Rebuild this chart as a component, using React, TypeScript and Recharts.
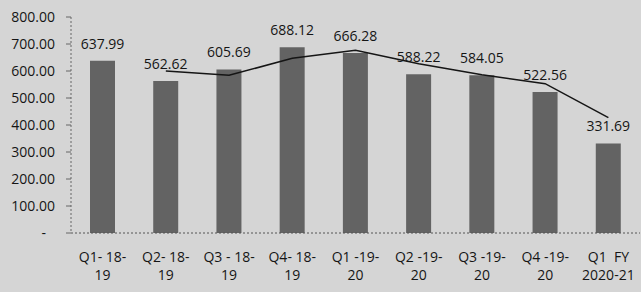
import React from "react";
import { ComposedChart, Bar, Line, XAxis, YAxis, LabelList } from "recharts";

const labelTop = ["Q1- 18-", "Q2- 18-", "Q3 - 18-", "Q4- 18-", "Q1 -19-", "Q2 -19-", "Q3 -19-", "Q4 -19-", "Q1  FY"];
const labelBottom = ["19", "19", "19", "19", "20", "20", "20", "20", "2020-21"];
const barValues = [637.99, 562.62, 605.69, 688.12, 666.28, 588.22, 584.05, 522.56, 331.69];
const trendValues: (number | null)[] = [null, 600, 584, 647, 677, 627, 586, 553, 427];
const yTicks = [0, 100, 200, 300, 400, 500, 600, 700, 800];

const data = labelTop.map((t, i) => ({
  key: String(i),
  top: t,
  bottom: labelBottom[i],
  value: barValues[i],
  trend: trendValues[i],
}));

const FONT = "'Open Sans', sans-serif";
const TEXT = "#151515";

const XTick = (props: any) => {
  const { x, y, payload } = props;
  const i = Number(payload.value);
  return (
    <g>
      <text x={x} y={y + 29} textAnchor="middle" fill={TEXT} fontSize={14} fontFamily={FONT} style={{ whiteSpace: "pre" }}>
        {labelTop[i]}
      </text>
      <text x={x} y={y + 47} textAnchor="middle" fill={TEXT} fontSize={14} fontFamily={FONT}>
        {labelBottom[i]}
      </text>
    </g>
  );
};

const YTick = (props: any) => {
  const { x, y, payload } = props;
  const v = Number(payload.value);
  return (
    <text x={v === 0 ? x - 9 : x} y={y} dy="0.36em" textAnchor="end" fill={TEXT} fontSize={14} fontFamily={FONT}>
      {v === 0 ? "-" : v.toFixed(2)}
    </text>
  );
};

const ValueLabel = (props: any) => {
  const { x, y, width, value } = props;
  return (
    <text x={x + width / 2} y={y - 12} textAnchor="middle" fill={TEXT} fontSize={14} fontFamily={FONT}>
      {Number(value).toFixed(2)}
    </text>
  );
};

export default function App() {
  return (
    <div style={{ position: "absolute", left: 0, top: 0, width: 641, height: 292, background: "#d5d5d5" }}>
      <ComposedChart width={641} height={292} data={data} margin={{ top: 17, right: 1, bottom: 0, left: 0 }}>
        <XAxis
          dataKey="key"
          height={59}
          tick={<XTick />}
          tickSize={0}
          tickMargin={0}
          tickLine={false}
          interval={0}
          axisLine={{ stroke: "#555", strokeDasharray: "2 2" }}
        />
        <YAxis
          width={71}
          domain={[0, 800]}
          ticks={yTicks}
          tick={<YTick />}
          tickSize={5}
          tickMargin={11}
          tickLine={{ stroke: "#666" }}
          axisLine={{ stroke: "#666", strokeDasharray: "2 2" }}
        />
        <Bar dataKey="value" fill="#636363" barSize={25} isAnimationActive={false}>
          <LabelList dataKey="value" content={<ValueLabel />} />
        </Bar>
        <Line
          dataKey="trend"
          type="linear"
          stroke="#151515"
          strokeWidth={1.5}
          dot={false}
          activeDot={false}
          connectNulls={false}
          isAnimationActive={false}
        />
      </ComposedChart>
    </div>
  );
}
